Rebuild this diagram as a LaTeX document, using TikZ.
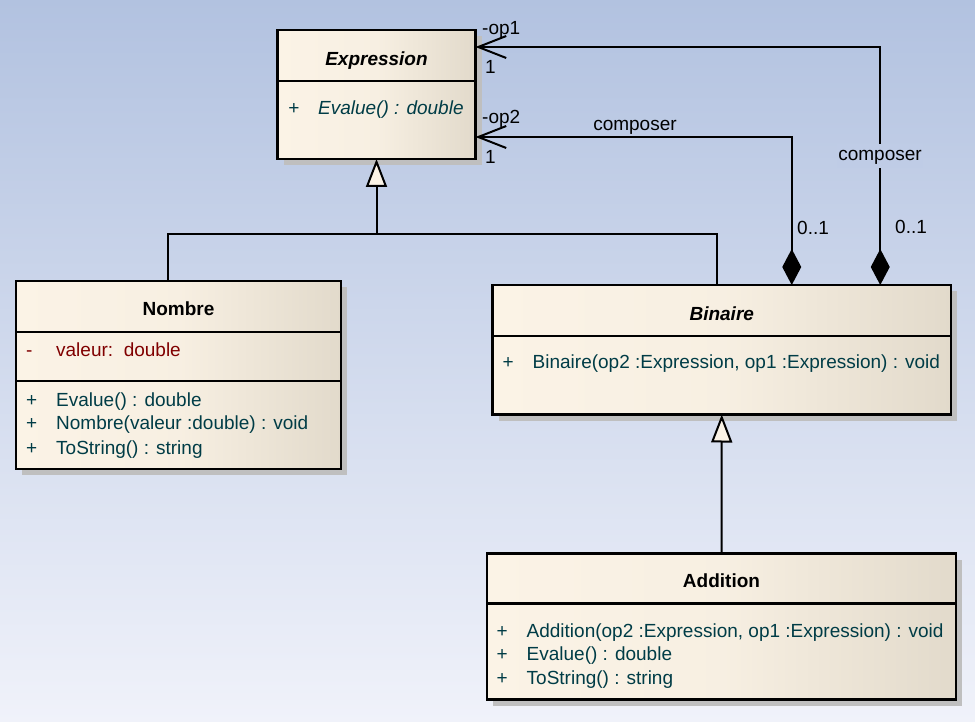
\documentclass[tikz,border=0pt]{standalone}
\usepackage{fontspec}
\setmainfont{Liberation Sans}
\usetikzlibrary{shadows,arrows.meta}

\definecolor{bgtop}{RGB}{178,194,224}
\definecolor{bgbot}{RGB}{240,242,250}
\definecolor{bgmid}{RGB}{191,204,230}
\definecolor{clscream}{RGB}{251,243,230}
\definecolor{clsbeige}{RGB}{226,218,203}
\definecolor{membcol}{RGB}{0,60,70}
\definecolor{attrcol}{RGB}{128,0,0}
\newcommand\umlsize{\fontsize{19}{23}\selectfont}

\begin{document}
\begin{tikzpicture}[x=1pt, y=-1pt, line join=miter,
      font=\umlsize,
      cls/.style = {draw, line width=2.4pt, anchor=north west,
        inner sep=0pt, outer sep=0pt,
        left color=clscream, right color=clsbeige, middle color=clscream!85!clsbeige,
        drop shadow={shadow xshift=6pt, shadow yshift=-6pt, fill=black!25, opacity=1}},
      sep/.style = {line width=2.2pt},
      txt/.style = {inner sep=0pt, text height=13.7pt, text depth=0pt},
      title/.style = {txt, font=\umlsize\bfseries},
      abstitle/.style = {txt, font=\umlsize\bfseries\itshape},
      member/.style = {txt, anchor=west, text=membcol},
      attr/.style = {txt, anchor=west, text=attrcol},
      lbl/.style = {txt, anchor=west},
      link/.style = {line width=2pt},
      gen/.style = {link, -{Triangle[length=28pt, width=21pt, fill=clscream]}},
      comp/.style = {link, {Diamond[length=36pt, width=19pt]}-{Straight Barb[length=28pt, width=22pt]}}]
  \shade[top color=bgtop, bottom color=bgbot] (0,0) rectangle (975,722);

  % classes
  \node[cls, minimum width=198pt, minimum height=129pt] (expr) at (277.5,30) {};
  \draw[sep] (expr.north west) ++(0,51) -- ++(198,0);
  \node[abstitle] (exprname) at (376.5,58.4) {Expression};
  \node[member, font=\umlsize\itshape] (exprop1) at (288,108) {\makebox[30pt][l]{+}Evalue() : double};

  \node[cls, minimum width=325pt, minimum height=188pt] (nombre) at (16,281) {};
  \draw[sep] (nombre.north west) ++(0,51) -- ++(325,0);
  \draw[sep] (nombre.north west) ++(0,100) -- ++(325,0);
  \node[title] (nombrename) at (178.5,309) {Nombre};
  \node[attr] (nombreat1) at (26,350) {\makebox[30pt][l]{-}valeur:\ \ double};
  \node[member] (nombreop1) at (26,399.5) {\makebox[30pt][l]{+}Evalue() : double};
  \node[member] (nombreop2) at (26,422.5) {\makebox[30pt][l]{+}Nombre(valeur :double) : void};
  \node[member] (nombreop3) at (26,448) {\makebox[30pt][l]{+}ToString() : string};

  \node[cls, minimum width=458.5pt, minimum height=129.5pt] (binaire) at (492.5,285) {};
  \draw[sep] (binaire.north west) ++(0,51) -- ++(458.5,0);
  \node[abstitle] (binairename) at (721.75,313.3) {Binaire};
  \node[member] (binaireop1) at (502.5,362) {\makebox[30pt][l]{+}Binaire(op2 :Expression, op1 :Expression) : void};

  \node[cls, minimum width=469pt, minimum height=146pt] (addition) at (487,553.5) {};
  \draw[sep] (addition.north west) ++(0,50) -- ++(469,0);
  \node[title] (additionname) at (721.5,580.7) {Addition};
  \node[member] (additionop1) at (496.5,630.7) {\makebox[30pt][l]{+}Addition(op2 :Expression, op1 :Expression) : void};
  \node[member] (additionop2) at (496.5,654) {\makebox[30pt][l]{+}Evalue() : double};
  \node[member] (additionop3) at (496.5,677.7) {\makebox[30pt][l]{+}ToString() : string};

  % generalisations
  \coordinate (genjoin) at (376.5,234);
  \draw[link] ([xshift=-10.5pt]nombre.north) |- (genjoin);
  \draw[link] ([xshift=-5pt]binaire.north) |- (genjoin);
  \draw[gen] (genjoin) -- (expr.south);
  \draw[gen] (addition.north) -- (binaire.south);

  % compositions
  \draw[comp] ([xshift=158.5pt]binaire.north) |- ([yshift=47.5pt]expr.east);
  \draw[comp] ([xshift=70pt]binaire.north) |- ([yshift=-42.5pt]expr.east);
  \node[lbl] (op1role) at (482,28) {-op1};
  \node[lbl] (op1mult) at (485,67) {1};
  \node[lbl] (op2role) at (482,117) {-op2};
  \node[lbl] (op2mult) at (485,157) {1};
  \node[txt] (op2name) at (635,123.3) {composer};
  \node[txt, anchor=base, fill=bgmid, inner xsep=1pt, inner ysep=3pt, text depth=4pt]
    (op1name) at (880,160.8) {composer};
  \node[lbl] (op2own) at (797,228) {0..1};
  \node[lbl] (op1own) at (895,227) {0..1};
\end{tikzpicture}
\end{document}
